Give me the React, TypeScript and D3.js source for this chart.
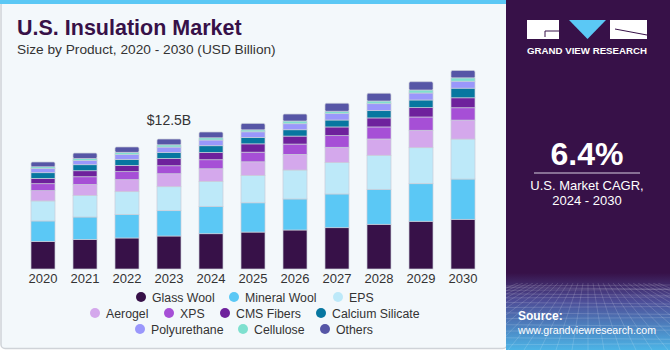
import React from "react";
import * as d3 from "d3";

// values in USD billion
const years = ["2020", "2021", "2022", "2023", "2024", "2025", "2026", "2027", "2028", "2029", "2030"];
const glassWool = [2.66, 2.85, 2.99, 3.18, 3.4, 3.56, 3.76, 3.98, 4.31, 4.6, 4.79];
const mineralWool = [1.97, 2.16, 2.27, 2.44, 2.64, 2.82, 2.99, 3.25, 3.37, 3.62, 3.88];
const eps = [1.93, 2.08, 2.19, 2.31, 2.41, 2.64, 2.79, 3.02, 3.28, 3.47, 3.85];
const aerogel = [0.99, 1.06, 1.16, 1.25, 1.21, 1.31, 1.51, 1.48, 1.57, 1.68, 1.83];
const xps = [0.67, 0.74, 0.77, 0.77, 0.87, 0.93, 0.99, 1.12, 1.16, 1.28, 1.19];
const cmsFibers = [0.51, 0.58, 0.61, 0.7, 0.71, 0.8, 0.77, 0.84, 0.87, 0.9, 0.96];
const calciumSilicate = [0.55, 0.58, 0.58, 0.58, 0.64, 0.62, 0.61, 0.67, 0.7, 0.74, 0.93];
const polyurethane = [0.39, 0.41, 0.45, 0.52, 0.55, 0.54, 0.58, 0.61, 0.67, 0.67, 0.67];
const cellulose = [0.19, 0.19, 0.22, 0.22, 0.22, 0.19, 0.26, 0.23, 0.26, 0.29, 0.32];
const others = [0.45, 0.52, 0.52, 0.55, 0.55, 0.62, 0.67, 0.77, 0.74, 0.8, 0.71];

const seriesNames = [
  "Glass Wool", "Mineral Wool", "EPS", "Aerogel", "XPS", "CMS Fibers",
  "Calcium Silicate", "Polyurethane", "Cellulose", "Others",
];
const seriesValues = [
  glassWool, mineralWool, eps, aerogel, xps, cmsFibers,
  calciumSilicate, polyurethane, cellulose, others,
];
const colors = [
  "#371148", "#5bc8f5", "#bde9f9", "#d4a8ec", "#a64fd6", "#6e219c",
  "#0777a0", "#9a97fb", "#7ee0cf", "#5656a6",
];

const annotYear = "2023";
const annotText = "$12.5B";

// legend rows: [series index, circle x]
const legendRows = [
  [[0, 141], [1, 234], [2, 338]],
  [[3, 95], [4, 169], [5, 225], [6, 321]],
  [[7, 140], [8, 243], [9, 325]],
];

const font = "'Liberation Sans', Arial, sans-serif";

export default function App() {
  const rows = years.map((yr, i) => {
    const r: any = { year: yr };
    seriesNames.forEach((n, k) => (r[n] = seriesValues[k][i]));
    return r;
  });
  const stacked = d3.stack().keys(seriesNames)(rows);

  const x = d3.scaleBand().domain(years).range([22, 484]).paddingInner(0.4286).paddingOuter(0.2143);
  const y = d3.scaleLinear().domain([0, 20]).range([269, 269 - 20 * 10.376]);

  const total = (i: number) => d3.sum(seriesValues, (s) => s[i]);
  const ai = years.indexOf(annotYear);

  // perspective grid for the bottom of the side panel
  const gridH = d3.range(0, 14).map((i) => 286 + Math.pow(i, 1.45) * 1.6);
  const gridV = d3.range(-14, 15).map((i) => i);

  return (
    <svg width={670} height={350} style={{ position: "absolute", left: 0, top: 0 }}>
      <defs>
        <linearGradient id="side" x1="0" y1="0" x2="0" y2="1">
          <stop offset="0" stopColor="#371148" />
          <stop offset="0.78" stopColor="#371148" />
          <stop offset="0.86" stopColor="#4d4d97" />
          <stop offset="1" stopColor="#4cb4e6" />
        </linearGradient>
        <clipPath id="sideClip">
          <rect x={506} y={283} width={164} height={67} />
        </clipPath>
      </defs>

      {/* left panel */}
      <rect x={1} y={1} width={506} height={347.5} rx={4} fill="#f3f8fb" stroke="#cfd3d8" strokeWidth={1.5} />
      <rect x={0} y={0} width={506} height={4} fill="#5bc8f5" />

      <text x={17} y={35} fontFamily={font} fontWeight={900} fontSize={21.5} fill="#371148">
        U.S. Insulation Market
      </text>
      <text x={17} y={54} fontFamily={font} fontSize={13.7} fill="#333">
        Size by Product, 2020 - 2030 (USD Billion)
      </text>

      {/* bars */}
      {stacked.map((layer, k) => (
        <g key={layer.key} fill={colors[k]}>
          {layer.map((d: any, i) => {
            const top = k === stacked.length - 1;
            return (
              <rect
                key={i}
                x={x(years[i])}
                y={y(d[1])}
                width={x.bandwidth()}
                height={y(d[0]) - y(d[1])}
                rx={top ? 1.5 : 0}
                stroke="#c9cdd9"
                strokeWidth={0.7}
              />
            );
          })}
        </g>
      ))}

      <text
        x={(x(annotYear) as number) + x.bandwidth() / 2}
        y={y(total(ai)) - 14}
        textAnchor="middle"
        fontFamily={font}
        fontSize={14}
        fill="#333"
      >
        {annotText}
      </text>

      {years.map((yr) => (
        <text
          key={yr}
          x={(x(yr) as number) + x.bandwidth() / 2}
          y={283}
          textAnchor="middle"
          fontFamily={font}
          fontSize={13}
          fill="#333"
        >
          {yr}
        </text>
      ))}

      {/* legend */}
      {legendRows.map((row, ri) =>
        row.map(([k, cx]) => (
          <g key={k}>
            <circle cx={cx} cy={297 + ri * 16} r={5} fill={colors[k]} />
            <text x={cx + 11} y={301.5 + ri * 16} fontFamily={font} fontSize={12.3} fill="#333">
              {seriesNames[k]}
            </text>
          </g>
        ))
      )}

      {/* side panel */}
      <rect x={506} y={0} width={164} height={350} fill="url(#side)" />
      <g clipPath="url(#sideClip)" stroke="#ffffff" strokeOpacity={0.22} strokeWidth={0.7} fill="none">
        {gridH.map((gy, i) => (
          <line key={"h" + i} x1={506} x2={670} y1={gy} y2={gy + (i % 2 ? 1.5 : -1)} />
        ))}
        {gridV.map((v) => (
          <line key={"v" + v} x1={588 + v * 5} y1={283} x2={588 + v * 16} y2={350} />
        ))}
      </g>

      {/* logo */}
      <rect x={527} y={20} width={32} height={19} fill="#fff" />
      <path d="M545 31 H559 M545 31 V37" stroke="#371148" strokeWidth={1} fill="none" />
      <path d="M569 20 H606 L587.5 39 Z" fill="#5bc8f5" />
      <rect x={610} y={20} width={37} height={19} fill="#fff" />
      <path d="M615 29 L647 35" stroke="#371148" strokeWidth={1} fill="none" />
      <text x={527} y={54} textLength={120} lengthAdjust="spacingAndGlyphs" fontFamily={font} fontWeight={700} fontSize={9.5} fill="#fff">
        GRAND VIEW RESEARCH
      </text>

      <text x={587} y={165} textAnchor="middle" fontFamily={font} fontWeight={900} fontSize={32} fill="#fff">
        6.4%
      </text>
      <line x1={534} x2={640} y1={173} y2={173} stroke="#d8cfe0" strokeWidth={1.2} />
      <text x={587} y={190} textAnchor="middle" fontFamily={font} fontSize={13} fill="#fff">
        U.S. Market CAGR,
      </text>
      <text x={587} y={205} textAnchor="middle" fontFamily={font} fontSize={13} fill="#fff">
        2024 - 2030
      </text>

      <text x={518} y={320} fontFamily={font} fontWeight={700} fontSize={12} fill="#fff">
        Source:
      </text>
      <text x={518} y={334} textLength={138} lengthAdjust="spacingAndGlyphs" fontFamily={font} fontSize={11.5} fill="#fff">
        www.grandviewresearch.com
      </text>
    </svg>
  );
}
